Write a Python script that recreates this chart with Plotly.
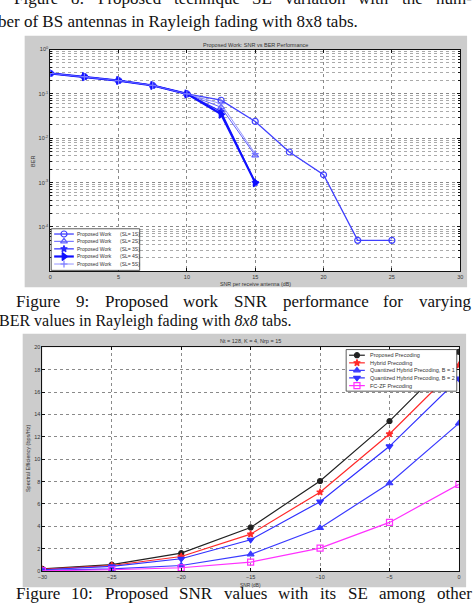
import plotly.graph_objects as go

W, H = 475, 613

# ---------------- Figure 9 data (BER vs SNR, log scale) ----------------
snr_ber = [0, 2.5, 5, 7.5, 10, 12.5, 15, 17.5, 20, 22.5, 25]
ber_sl1 = [0.29, 0.245, 0.2, 0.155, 0.1, 0.072, 0.024, 0.0049, 0.0015, 5e-5, 5e-5]
ber_sl2 = [0.29, 0.245, 0.2, 0.155, 0.1, 0.05, 0.0041]
ber_sl3 = [0.29, 0.245, 0.2, 0.155, 0.1, 0.04, 0.001]
ber_sl4 = [0.29, 0.245, 0.2, 0.155, 0.1, 0.035, 0.001]
ber_sl5 = [0.29, 0.245, 0.2, 0.155, 0.1, 0.06, 0.0045]
ber_names = ["Proposed Work", "Proposed Work", "Proposed Work", "Proposed Work", "Proposed Work"]
ber_tags = ["(SL= 1S)", "(SL= 2S)", "(SL= 3S)", "(SL= 4S)", "(SL= 5S)"]
ber_xticks = [0, 5, 10, 15, 20, 25, 30]
ber_yticks = [1, 0.1, 0.01, 0.001, 0.0001]
ber_yticklabels = ["10<sup>0</sup>", "10<sup>-1</sup>", "10<sup>-2</sup>", "10<sup>-3</sup>", "10<sup>-4</sup>"]

# ---------------- Figure 10 data (Spectral efficiency vs SNR) ----------------
snr_se = [-30, -25, -20, -15, -10, -5, 0]
se_proposed = [0.2, 0.57, 1.6, 3.9, 8.05, 13.4, 19.6]
se_hybrid = [0.15, 0.5, 1.3, 3.3, 7.05, 12.25, 18.4]
se_q_b1 = [0.06, 0.2, 0.5, 1.5, 3.85, 7.85, 13.2]
se_q_b2 = [0.12, 0.42, 1.1, 2.8, 6.2, 11.15, 17.2]
se_fczf = [0.03, 0.12, 0.3, 0.8, 2.05, 4.35, 7.75]
se_names = ["Proposed Precoding", "Hybrid Precoding", "Quantized Hybrid Precoding, B = 1",
            "Quantized Hybrid Precoding, B = 2", "FC-ZF Precoding"]
se_xticks = [-30, -25, -20, -15, -10, -5, 0]
se_yticks = [0, 2, 4, 6, 8, 10, 12, 14, 16, 18, 20]

# ---------------- Captions ----------------
cap_fig8_a = "Figure 8: Proposed technique SE variation with the num-"
cap_fig8_b = "ber of BS antennas in Rayleigh fading with 8x8 tabs."
cap_fig9_a = "Figure 9: Proposed work SNR performance for varying"
cap_fig9_b = "BER values in Rayleigh fading with <i>8x8</i> tabs."
cap_fig10_a = "Figure 10: Proposed SNR values with its SE among other"

# ---------------- helpers ----------------
def px_x(p):
    return p / W

def px_y(p):
    return 1 - p / H

TIMES = {' ': 250, ':': 278, '-': 333, '.': 250, ',': 250}
for c in '0123456789':
    TIMES[c] = 500
TIMES.update(dict(zip('ABCDEFGHIJKLMNOPQRSTUVWXYZ',
                      [722, 667, 667, 722, 611, 556, 722, 722, 333, 389, 722, 611, 889, 722, 722, 556,
                       722, 667, 556, 611, 722, 722, 944, 722, 722, 611])))
TIMES.update(dict(zip('abcdefghijklmnopqrstuvwxyz',
                      [444, 500, 444, 500, 444, 333, 500, 500, 278, 278, 500, 278, 778, 500, 500, 500,
                       500, 333, 389, 278, 500, 500, 722, 500, 500, 444])))

def tw(s, fs):
    return sum(TIMES.get(c, 500) for c in s) / 1000 * fs

SERIF = "Liberation Serif, Times New Roman, serif"
SANS = "Liberation Sans, Arial, sans-serif"
annotations = []

def cap_left(text, x, baseline, fs=17):
    annotations.append(dict(xref="paper", yref="paper", x=px_x(x), y=px_y(baseline - 0.33 * fs),
                            text=text, showarrow=False, xanchor="left", yanchor="middle",
                            borderpad=0, font=dict(family=SERIF, size=fs, color="#111")))

def cap_justified(text, xl, xr, baseline, fs=17):
    words = text.split(" ")
    widths = [tw(w, fs) for w in words]
    gap = (xr - xl - sum(widths)) / (len(words) - 1)
    x = xl
    for w, wd in zip(words, widths):
        cap_left(w, x, baseline, fs)
        x += wd + gap

def small(text, x, y, size=5.5, xanchor="center", yanchor="middle", angle=0):
    annotations.append(dict(xref="paper", yref="paper", x=px_x(x), y=px_y(y), text=text,
                            showarrow=False, xanchor=xanchor, yanchor=yanchor, textangle=angle,
                            borderpad=0, font=dict(family=SANS, size=size, color="#333")))

# ---------------- figure ----------------
fig = go.Figure()

top_styles = [
    dict(color="#4040ff", width=1.3, symbol="circle-open", size=6),
    dict(color="#6060ff", width=1.0, symbol="triangle-up-open", size=6),
    dict(color="#2a2aff", width=1.2, symbol="star", size=5),
    dict(color="#1010ff", width=2.2, symbol="triangle-right", size=7),
    dict(color="#7a7aff", width=0.8, symbol="cross-thin-open", size=5),
]
top_series = [ber_sl1, ber_sl2, ber_sl3, ber_sl4, ber_sl5]
for ys, st in zip(top_series, top_styles):
    fig.add_trace(go.Scatter(x=snr_ber[:len(ys)], y=ys, mode="lines+markers", xaxis="x", yaxis="y",
                             line=dict(color=st["color"], width=st["width"]),
                             marker=dict(symbol=st["symbol"], size=st["size"], color=st["color"],
                                         line=dict(color=st["color"], width=1.2)),
                             showlegend=False, hoverinfo="skip"))

bot_styles = [
    dict(color="#222222", width=1.2, symbol="circle", size=5),
    dict(color="#ff2a2a", width=1.2, symbol="star", size=5),
    dict(color="#3a3aff", width=1.2, symbol="triangle-up", size=6),
    dict(color="#3030ff", width=1.2, symbol="triangle-down", size=6),
    dict(color="#ff30ff", width=1.2, symbol="square-open", size=6),
]
bot_series = [se_proposed, se_hybrid, se_q_b1, se_q_b2, se_fczf]
for ys, st in zip(bot_series, bot_styles):
    fig.add_trace(go.Scatter(x=snr_se, y=ys, mode="lines+markers", xaxis="x2", yaxis="y2",
                             line=dict(color=st["color"], width=st["width"]),
                             marker=dict(symbol=st["symbol"], size=st["size"], color=st["color"],
                                         line=dict(color=st["color"], width=1.2)),
                             showlegend=False, hoverinfo="skip"))

# ---------------- panels and manual legends ----------------
def prect(x0, x1, y0, y1, **kw):
    return dict(type="rect", xref="paper", yref="paper", x0=px_x(x0), x1=px_x(x1),
                y0=px_y(y1), y1=px_y(y0), **kw)

shapes = [
    prect(20, 470, 33, 287, fillcolor="#cccccc", line=dict(width=0), layer="below"),
    prect(46, 463, 47, 271, fillcolor="white", line=dict(width=0), layer="below"),
    prect(18, 469, 334, 590, fillcolor="#cccccc", line=dict(width=0), layer="below"),
    prect(38, 461.7, 347.7, 573.7, fillcolor="white", line=dict(width=0), layer="below"),
]
# legend boxes on the overlay pixel axis (above chart data, below legend samples)
shapes.append(dict(type="rect", xref="x3", yref="y3", x0=47, x1=137, y0=228, y1=270,
                   fillcolor="white", line=dict(color="#333", width=0.8), layer="between"))
shapes.append(dict(type="rect", xref="x3", yref="y3", x0=347, x1=459.5, y0=350, y1=392,
                   fillcolor="white", line=dict(color="#333", width=0.8), layer="between"))

top_leg_y = [233.3, 240.7, 248.3, 256.0, 263.6]
for yy, st, nm, tg in zip(top_leg_y, top_styles, ber_names, ber_tags):
    fig.add_trace(go.Scatter(x=[50, 70], y=[yy, yy], mode="lines", xaxis="x3", yaxis="y3",
                             line=dict(color=st["color"], width=st["width"]),
                             showlegend=False, hoverinfo="skip"))
    fig.add_trace(go.Scatter(x=[60], y=[yy], mode="markers", xaxis="x3", yaxis="y3",
                             marker=dict(symbol=st["symbol"], size=st["size"], color=st["color"],
                                         line=dict(color=st["color"], width=1.2)),
                             showlegend=False, hoverinfo="skip"))
    small(nm, 72, yy, size=5, xanchor="left")
    small(tg, 116, yy, size=5, xanchor="left")

bot_leg_y = [355.7, 363.4, 371.0, 378.6, 386.4]
for yy, st, nm in zip(bot_leg_y, bot_styles, se_names):
    fig.add_trace(go.Scatter(x=[350, 366], y=[yy, yy], mode="lines", xaxis="x3", yaxis="y3",
                             line=dict(color=st["color"], width=st["width"]),
                             showlegend=False, hoverinfo="skip"))
    fig.add_trace(go.Scatter(x=[358], y=[yy], mode="markers", xaxis="x3", yaxis="y3",
                             marker=dict(symbol=st["symbol"], size=st["size"], color=st["color"],
                                         line=dict(color=st["color"], width=1.2)),
                             showlegend=False, hoverinfo="skip"))
    small(nm, 370, yy, size=5.5, xanchor="left")

# ---------------- chart titles / axis titles ----------------
small("Proposed Work: SNR vs BER Performance", 254.5, 42, size=5.5)
small("SNR per receive antenna (dB)", 255, 283.5, size=5.3)
small("BER", 29, 160, size=5.5, angle=-90)
small("Nt = 128, K = 4, Nrp = 15", 250, 341, size=5.5)
small("SNR (dB)", 250, 588, size=4.8)
small("Spectral Efficiency (bps/Hz)", 24, 460, size=5.5, angle=-90)

# ---------------- captions ----------------
cap_justified(cap_fig8_a, 8, 473, 1.5)
cap_left(cap_fig8_b, -8, 24)
cap_justified(cap_fig9_a, 10, 472, 306.7)
cap_left(cap_fig9_b, -7.5, 326.7, fs=16)
cap_justified(cap_fig10_a, 10, 473, 601.7)

# ---------------- axes ----------------
tickfont = dict(family=SANS, size=5.5, color="#333")
common_ax = dict(showline=True, linecolor="#111", linewidth=1, mirror="ticks", ticks="inside",
                 ticklen=3, tickcolor="#111", tickfont=tickfont, zeroline=False,
                 showgrid=True, gridcolor="#8a8a8a", griddash="dot", gridwidth=0.8)

fig.update_layout(
    width=W, height=H, margin=dict(l=0, r=0, t=0, b=0),
    paper_bgcolor="white", plot_bgcolor="rgba(0,0,0,0)",
    showlegend=False,
    xaxis=dict(domain=[px_x(46), px_x(463)], range=[0, 30], anchor="y", tickvals=ber_xticks,
               **common_ax),
    yaxis=dict(domain=[px_y(271), px_y(47)], type="log", range=[-5, 0], anchor="x",
               tickvals=ber_yticks, ticktext=ber_yticklabels,
               minor=dict(dtick="D1", showgrid=True, gridcolor="#aaaaaa", griddash="dot",
                          gridwidth=0.6, ticks="inside", ticklen=2, tickcolor="#111"),
               **common_ax),
    xaxis2=dict(domain=[px_x(38), px_x(461.7)], range=[-30, 0], anchor="y2", tickvals=se_xticks,
                **common_ax),
    yaxis2=dict(domain=[px_y(573.7), px_y(347.7)], range=[0, 20], anchor="x2", tickvals=se_yticks,
                **common_ax),
    xaxis3=dict(domain=[0, 1], range=[0, W], anchor="y3", visible=False, fixedrange=True),
    yaxis3=dict(domain=[0, 1], range=[H, 0], anchor="x3", visible=False, fixedrange=True),
    shapes=shapes,
    annotations=annotations,
)

fig.write_html("out.html")
